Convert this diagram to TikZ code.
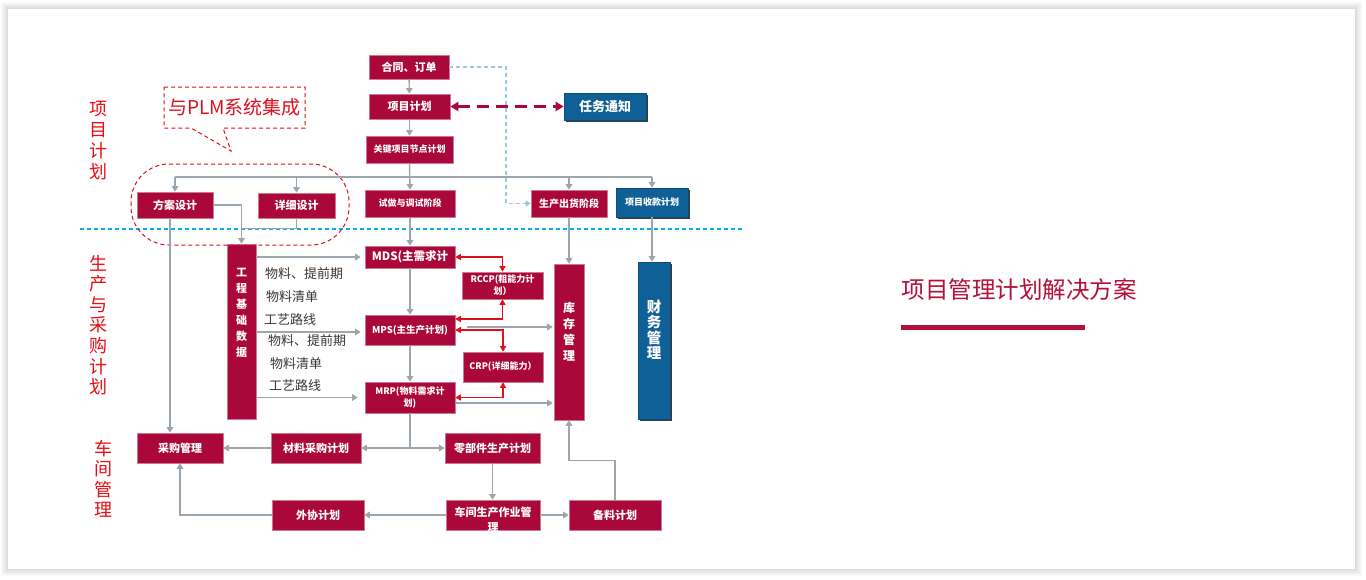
\documentclass[tikz,border=0pt]{standalone}
\usepackage{fontspec}
\setmainfont{Noto Sans CJK SC}
\usetikzlibrary{arrows.meta,shadows,calc}
\definecolor{crim}{RGB}{170,8,58}
\definecolor{cblue}{RGB}{16,96,152}
\definecolor{glinec}{RGB}{155,166,174}
\definecolor{lred}{RGB}{222,16,30}
\definecolor{dashblue}{RGB}{150,200,232}
\definecolor{cyanline}{RGB}{0,176,240}
\definecolor{titlered}{RGB}{180,16,60}
\definecolor{labelred}{RGB}{232,12,20}
\definecolor{tgray}{RGB}{55,55,55}
\newcommand\fsz[2]{\fontsize{#1}{#2}\selectfont}
\begin{document}
\begin{tikzpicture}[x=1pt,y=-1pt,
  box/.style={fill=crim, draw=crim!55!white, line width=0.6pt, text=white, inner sep=1pt, align=center, font=\bfseries\fsz{11}{13}},
  bbox/.style={fill=cblue, draw=cblue!80!black, line width=0.6pt, text=white, inner sep=1pt, align=center, font=\bfseries\fsz{11}{13},
    drop shadow={shadow xshift=1.6pt, shadow yshift=-1.6pt, opacity=0.9, fill=black!85}},
  vtext/.style={text=white, align=center, inner sep=0pt},
  gtext/.style={text=tgray, font=\fsz{13}{15}, inner sep=0pt},
  gl/.style={draw=glinec, line width=1.4pt},
  garrow/.style={draw=glinec, line width=1.4pt, -{Triangle[width=6.5pt,length=5.5pt]}},
  rarrow/.style={draw=lred, line width=1.2pt, {Triangle[width=6pt,length=5.5pt]}-{Triangle[width=6pt,length=5.5pt]}},
  reddash/.style={draw=lred, line width=1pt, dash pattern=on 4pt off 3pt},
  sidelabel/.style={text=labelred, align=center, inner sep=0pt}
]
\useasboundingbox (0,0) rectangle (1366,579);
\fill[white] (0,0) rectangle (1366,579);
% card shadow
\foreach \i in {1,...,7}
  \fill[black, opacity=0.02] (8-\i,9-\i) rectangle (1355+\i,569+\i);
\fill[white] (8,9) rectangle (1355,569);

% divider
\draw[draw=cyanline, line width=1.3pt, dash pattern=on 4pt off 3pt] (80,229) -- (745,229);

% top column
\node[box, minimum width=80, minimum height=24] (order) at (409,67) {合同、订单};
\node[box, minimum width=81, minimum height=25] (plan) at (409.5,106.5) {项目计划};
\node[box, minimum width=87, minimum height=27, font=\bfseries\fsz{9}{11}] (key) at (409.5,149.5) {关键项目节点计划};
\node[bbox, minimum width=82, minimum height=27, font=\bfseries\fsz{13}{15}] (task) at (605,106.5) {任务通知};

\node[box, minimum width=76, minimum height=26] (fangan) at (175,205) {方案设计};
\node[box, minimum width=77, minimum height=25] (xiangxi) at (296.5,205.5) {详细设计};
\node[box, minimum width=90, minimum height=27, font=\bfseries\fsz{9}{11}] (shizuo) at (410,203.5) {试做与调试阶段};
\node[box, minimum width=76, minimum height=27, font=\bfseries\fsz{10}{12}] (shengchan) at (569,203.5) {生产出货阶段};
\node[bbox, minimum width=72, minimum height=29, font=\bfseries\fsz{9}{11}] (shoukuan) at (652,202.5) {项目收款计划};

% middle
\node[box, minimum width=29, minimum height=175] (gcjc) at (241.5,331.5) {};
\node[vtext, font=\bfseries\fsz{11}{16}] at (241.5,313) {工\\程\\基\\础\\数\\据};
\node[box, minimum width=90, minimum height=22, font=\bfseries\fsz{11.5}{13}] (mds) at (410,257) {MDS(主需求计};
\node[box, minimum width=81, minimum height=27, font=\bfseries\fsz{9}{12}] (rccp) at (502.5,285.5) {RCCP(粗能力计\\划）};
\node[box, minimum width=90, minimum height=30, font=\bfseries\fsz{9.5}{12}] (mps) at (410,330) {MPS(主生产计划)};
\node[box, minimum width=80, minimum height=30, font=\bfseries\fsz{9}{12}] (crp) at (503,367) {CRP(详细能力）};
\node[box, minimum width=90, minimum height=31, font=\bfseries\fsz{9}{12}] (mrp) at (410,397.5) {MRP(物料需求计\\划)};
\node[box, minimum width=30, minimum height=156] (kucun) at (569,342) {};
\node[vtext, font=\bfseries\fsz{12}{16}] at (569,332) {库\\存\\管\\理};
\node[bbox, minimum width=32, minimum height=157] (caiwu) at (654,340.5) {};
\node[vtext, font=\bfseries\fsz{14.5}{15.5}] at (654,330) {财\\务\\管\\理};

\node[gtext] (t1) at (304,274) {物料、提前期};
\node[gtext] (t2) at (292,297) {物料清单};
\node[gtext] (t3) at (290,320) {工艺路线};
\node[gtext] (t4) at (307,341) {物料、提前期};
\node[gtext] (t5) at (296,364) {物料清单};
\node[gtext] (t6) at (295,386) {工艺路线};

% bottom
\node[box, minimum width=86, minimum height=30] (caigou) at (180,448) {采购管理};
\node[box, minimum width=90, minimum height=30] (cailiao) at (316,448) {材料采购计划};
\node[box, minimum width=95, minimum height=30] (lingbujian) at (492.5,448) {零部件生产计划};
\node[box, minimum width=92, minimum height=30] (waixie) at (318,515) {外协计划};
\node[box, minimum width=94, minimum height=30] (chejian) at (493,515) {};
\node[vtext, font=\bfseries\fsz{11}{15}] at (493,520) {车间生产作业管\\理};
\node[box, minimum width=92, minimum height=30] (beiliao) at (615,515) {备料计划};

% side labels
\node[sidelabel, font=\fsz{18}{21}] (lab1) at (98,141) {项\\目\\计\\划};
\node[sidelabel, font=\fsz{18}{20.6}] (lab2) at (98,325) {生\\产\\与\\采\\购\\计\\划};
\node[sidelabel, font=\fsz{18}{20.5}] (lab3) at (103,479) {车\\间\\管\\理};

% title
\node[text=titlered, font=\fsz{23.5}{26}, inner sep=0pt] (title) at (1019,290) {项目管理计划解决方案};
\fill[titlered] (901,325) rectangle (1085,330);

% callout and enclosure
\draw[reddash] (164,87) -- (305,87) -- (305,128) -- (223,128) -- (231,151) -- (191,128) -- (164,128) -- cycle;
\node[text=lred, font=\fsz{19}{22}, inner sep=0pt] (plm) at (234.5,107) {与PLM系统集成};
\draw[reddash, rounded corners=38] (131,164) rectangle (349,245);

% connectors top
\draw[garrow] (order) -- (plan);
\draw[garrow] (plan) -- (key);
\coordinate (busL) at (175,177);
\coordinate (busR) at (652,177);
\draw[gl] (busL) -- (busR);
\draw[garrow] (busL) -- (fangan.north);
\draw[garrow] (xiangxi.north |- busL) -- (xiangxi.north);
\draw[garrow] (shengchan.north |- busL) -- (shengchan.north);
\draw[garrow] (busR) -- (shoukuan.north);
\draw[garrow] (key.south) -- (shizuo.north);
\draw[draw=crim, line width=2.4pt, dash pattern=on 12pt off 7pt,
  {Triangle[width=9pt,length=8pt]}-{Triangle[width=9pt,length=8pt]}] (plan.east) -- (task.west);
\draw[dashblue, line width=1.2pt, dash pattern=on 4pt off 3pt, -{Triangle[width=6pt,length=5pt]}]
  (order.east) -- (506,67) -- (506,203.5) -- (shengchan.west);

% design to engineering data
\draw[garrow] (fangan.east) -| (gcjc.north);
\draw[gl] (xiangxi.south) |- ($(gcjc.north)+(0,-15)$);
\draw[garrow] ([xshift=-5pt]fangan.south) -- ([xshift=-5pt]fangan.south |- caigou.north);

% engineering data to plans
\draw[garrow, shorten >=4pt] (gcjc.east |- mds.west) -- (mds.west);
\draw[garrow, shorten >=4pt] ($(gcjc.east |- mps.west)+(0,2)$) -- ($(mps.west)+(0,2)$);
\draw[garrow, shorten >=7pt] (gcjc.east |- mrp.west) -- (mrp.west);

% planning column
\draw[garrow] (shizuo.south) -- (mds.north);
\draw[garrow] (mds.south) -- (mps.north);
\draw[garrow] (mps.south) -- (mrp.north);
\draw[garrow] (shengchan.south) -- (kucun.north);
\draw[garrow] (shoukuan.south) -- (shoukuan.south |- caiwu.north);
\draw[garrow] ($(mps.east)+(12,-3)$) -- ($(kucun.west |- mps.east)+(-1,-3)$);
\draw[garrow] ($(mrp.east)+(0,5.5)$) -- ($(kucun.west |- mrp.east)+(-1,5.5)$);

% red capacity links
\draw[rarrow] (mds.east) -| (rccp.north);
\draw[rarrow] ([yshift=11pt]mps.east) -| (rccp.south);
\draw[rarrow] (mps.east) -| (crp.north);
\draw[rarrow] (mrp.east) -| (crp.south);

% bottom connectors
\coordinate (split) at (mrp.south |- cailiao.east);
\draw[gl] (mrp.south) -- (split);
\draw[garrow] (split) -- (cailiao.east);
\draw[garrow] (split) -- (lingbujian.west);
\draw[garrow] (cailiao.west) -- (caigou.east);
\draw[garrow] (waixie.west) -| (caigou.south);
\draw[garrow] (chejian.west) -- (waixie.east);
\draw[garrow] (lingbujian.south) -- (lingbujian.south |- chejian.north);
\draw[garrow] (chejian.east) -- (beiliao.west);
\draw[garrow] (beiliao.north) |- ($(kucun.south)+(0,40)$) -- (kucun.south);
\end{tikzpicture}
\end{document}
